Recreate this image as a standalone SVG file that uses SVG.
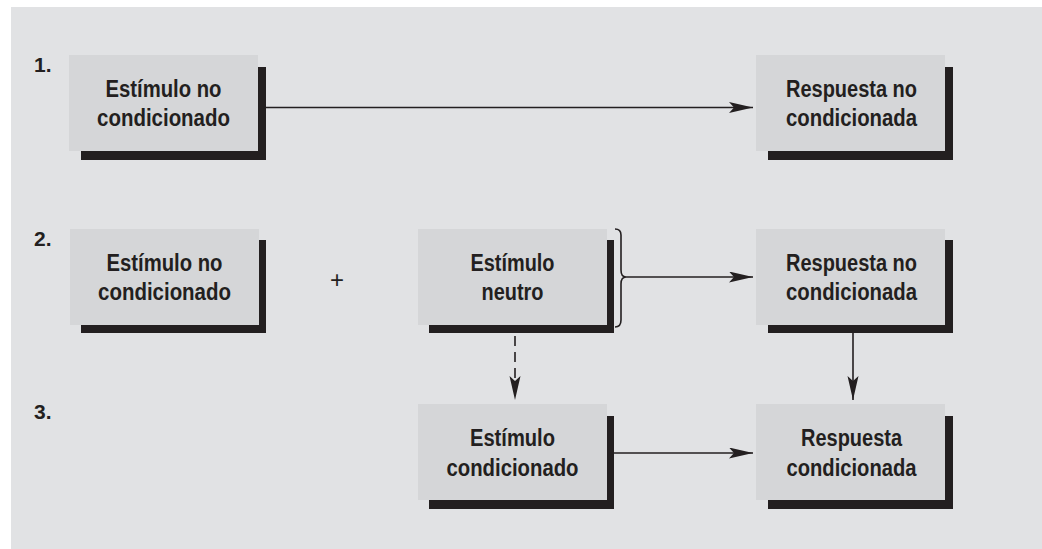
<svg xmlns="http://www.w3.org/2000/svg" width="1042" height="549" viewBox="0 0 1042 549">
  <style>
    .panel { fill: #e1e2e4; }
    .box { fill: #d5d6d8; }
    .shadow { fill: #231f20; }
    .label { font-family: "Liberation Sans", Arial, sans-serif; font-weight: bold; font-size: 23.5px; fill: #231f20; text-anchor: middle; }
    .num { font-family: "Liberation Sans", Arial, sans-serif; font-weight: bold; font-size: 21px; fill: #231f20; }
    .plus { font-family: "Liberation Sans", Arial, sans-serif; font-size: 24px; fill: #231f20; text-anchor: middle; }
    .conn { stroke: #231f20; stroke-width: 1.6; fill: none; }
    .dash { stroke-dasharray: 10 6; }
  </style>
  <defs>
    <marker id="arrow" markerUnits="userSpaceOnUse" markerWidth="25" markerHeight="12" refX="24" refY="5.5" orient="auto">
      <path d="M24,5.5 L0,0 L5,5.5 L0,11 Z" fill="#231f20"/>
    </marker>
  </defs>

  <rect x="0" y="0" width="1042" height="549" fill="#ffffff"/>
  <rect class="panel" x="11" y="7" width="1031" height="542"/>

  <!-- row numbers -->
  <text class="num" x="34" y="72">1.</text>
  <text class="num" x="34" y="246">2.</text>
  <text class="num" x="34" y="419">3.</text>
  <text class="plus" x="337" y="288">+</text>

  <!-- row 1 -->
  <g id="ec1">
    <rect class="shadow" x="81" y="67" width="185" height="93"/>
    <rect class="box" x="69" y="55" width="189" height="96"/>
    <text class="label" x="163.5" y="97" textLength="116" lengthAdjust="spacingAndGlyphs">Estímulo no</text>
    <text class="label" x="163.5" y="126" textLength="133" lengthAdjust="spacingAndGlyphs">condicionado</text>
  </g>
  <g id="rnc1">
    <rect class="shadow" x="768" y="67" width="185" height="93"/>
    <rect class="box" x="756" y="55" width="189" height="96"/>
    <text class="label" x="851.5" y="97" textLength="131" lengthAdjust="spacingAndGlyphs">Respuesta no</text>
    <text class="label" x="851.5" y="126" textLength="131" lengthAdjust="spacingAndGlyphs">condicionada</text>
  </g>

  <!-- row 2 -->
  <g id="ec2">
    <rect class="shadow" x="81" y="240" width="185" height="93"/>
    <rect class="box" x="70" y="229" width="189" height="96"/>
    <text class="label" x="164.5" y="271" textLength="116" lengthAdjust="spacingAndGlyphs">Estímulo no</text>
    <text class="label" x="164.5" y="300" textLength="133" lengthAdjust="spacingAndGlyphs">condicionado</text>
  </g>
  <g id="en">
    <rect class="shadow" x="429" y="240" width="185" height="93"/>
    <rect class="box" x="418" y="229" width="189" height="96"/>
    <text class="label" x="512.5" y="271" textLength="84" lengthAdjust="spacingAndGlyphs">Estímulo</text>
    <text class="label" x="512.5" y="300" textLength="62" lengthAdjust="spacingAndGlyphs">neutro</text>
  </g>
  <g id="rnc2">
    <rect class="shadow" x="768" y="240" width="185" height="93"/>
    <rect class="box" x="756" y="229" width="189" height="96"/>
    <text class="label" x="851.5" y="271" textLength="131" lengthAdjust="spacingAndGlyphs">Respuesta no</text>
    <text class="label" x="851.5" y="300" textLength="131" lengthAdjust="spacingAndGlyphs">condicionada</text>
  </g>

  <!-- row 3 -->
  <g id="ecd">
    <rect class="shadow" x="429" y="416" width="185" height="93"/>
    <rect class="box" x="418" y="404" width="189" height="96"/>
    <text class="label" x="512.5" y="446" textLength="85" lengthAdjust="spacingAndGlyphs">Estímulo</text>
    <text class="label" x="512.5" y="476" textLength="132" lengthAdjust="spacingAndGlyphs">condicionado</text>
  </g>
  <g id="rcd">
    <rect class="shadow" x="768" y="416" width="185" height="93"/>
    <rect class="box" x="756" y="404" width="189" height="96"/>
    <text class="label" x="851.5" y="446" textLength="101" lengthAdjust="spacingAndGlyphs">Respuesta</text>
    <text class="label" x="851.5" y="476" textLength="130" lengthAdjust="spacingAndGlyphs">condicionada</text>
  </g>

  <!-- connectors -->
  <g id="connectors">
    <line class="conn" x1="266" y1="107.5" x2="753" y2="107.5" marker-end="url(#arrow)"/>
    <!-- brace grouping the neutral stimulus -->
    <path class="conn" d="M615,229 Q621,229 621,235 L621,270 Q621,277 626,277 Q621,277 621,284 L621,320 Q621,327 615,327"/>
    <line class="conn" x1="626" y1="277" x2="753" y2="277" marker-end="url(#arrow)"/>
    <line class="conn" x1="853" y1="333" x2="853" y2="400" marker-end="url(#arrow)"/>
    <line class="conn dash" x1="515" y1="336" x2="515" y2="400" marker-end="url(#arrow)"/>
    <line class="conn" x1="614" y1="453" x2="753" y2="453" marker-end="url(#arrow)"/>
  </g>
</svg>
